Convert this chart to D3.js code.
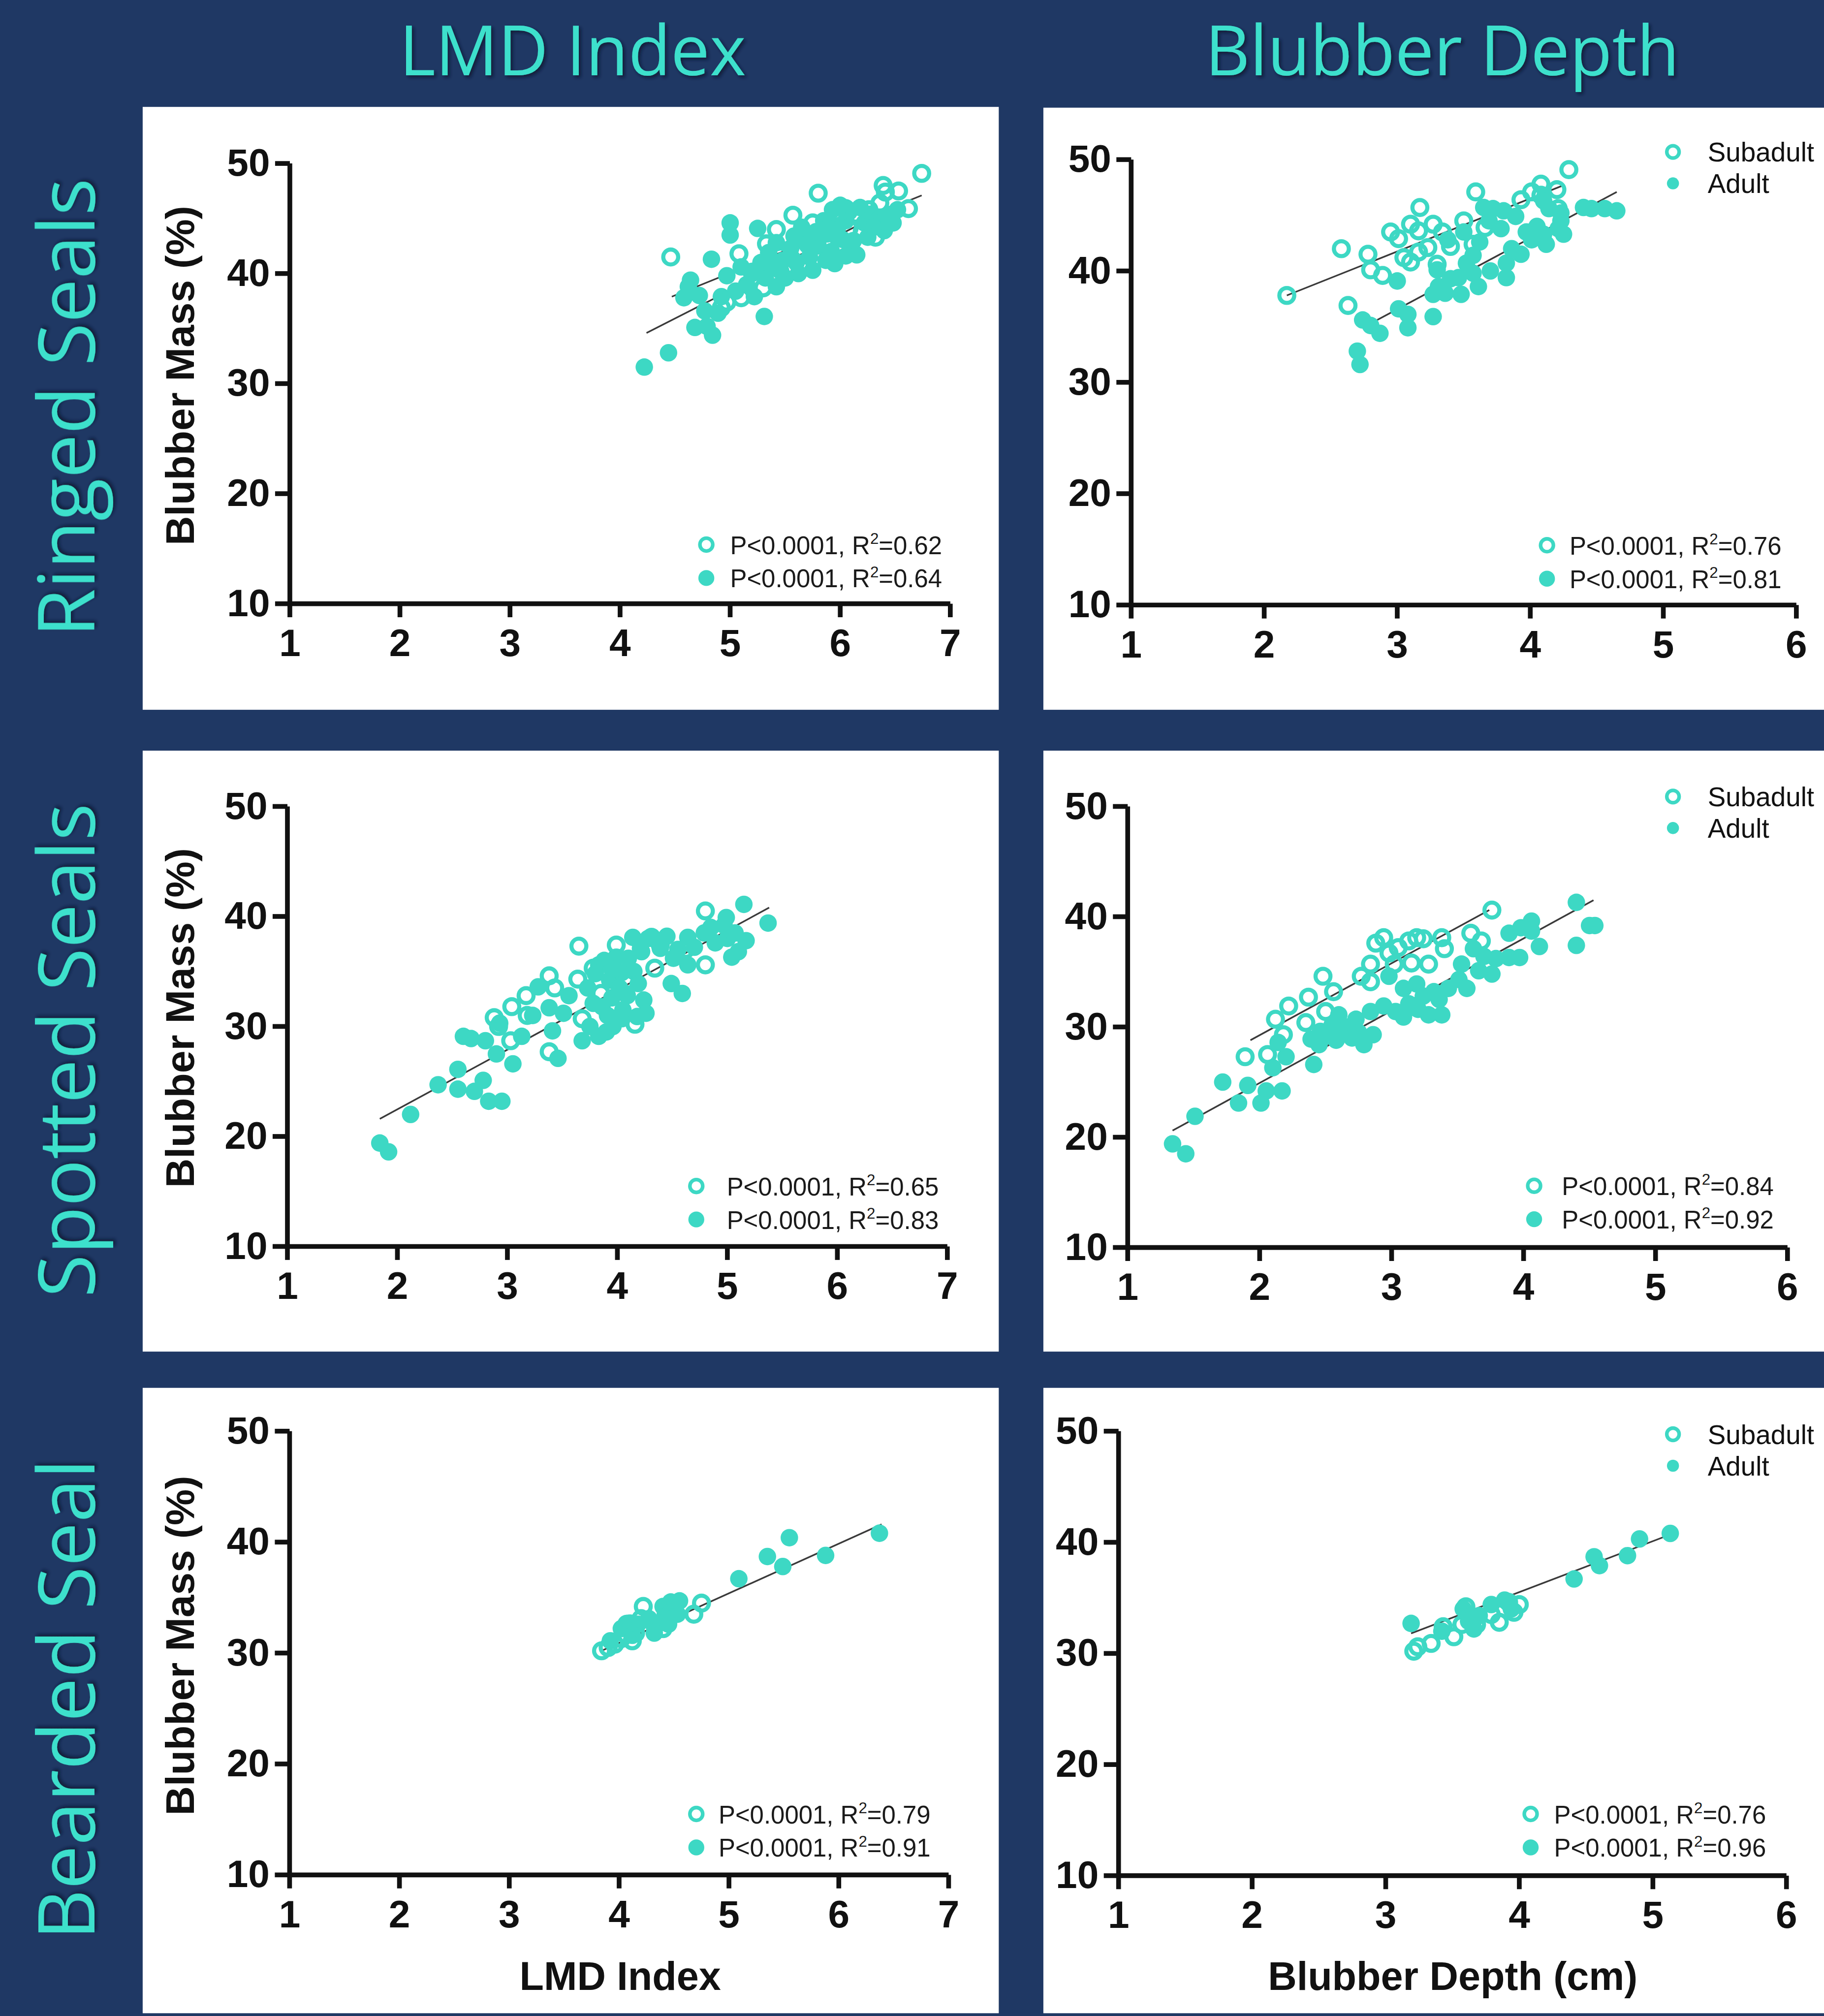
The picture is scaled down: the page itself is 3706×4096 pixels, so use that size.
<!DOCTYPE html>
<html>
<head>
<meta charset="utf-8">
<script src="https://cdn.jsdelivr.net/npm/d3@7"></script>
<style>
  body { margin: 0; background: #1f3864; }
  svg { display: block; }
</style>
</head>
<body>
<svg id="chart"></svg>
<script>
// ---- data ----
const columnTitles = ['LMD Index', 'Blubber Depth'];
const rowTitles = ['Ringed Seals', 'Spotted Seals', 'Bearded Seal'];
const xTitles = ['LMD Index', 'Blubber Depth (cm)'];
const yTitle = 'Blubber Mass (%)';
const ageGroups = ['Subadult', 'Adult'];
const yTicks = [10, 20, 30, 40, 50];
const lmdTicks = [1, 2, 3, 4, 5, 6, 7];
const depthTicks = [1, 2, 3, 4, 5, 6];
const pValue = 'P<0.0001';

// ringed seals, LMD index
const ringedLmdSub = [[6.74,49.1],[5.80,47.3],[6.39,48.0],[6.41,47.4],[6.53,47.5],[6.62,45.9],[5.57,45.3],[5.75,44.6],
  [6.32,43.3],[6.02,42.6],[4.46,41.5],[5.08,41.8],[5.42,44.0],[4.97,37.4],[5.10,37.8],[5.45,41.6],[5.33,42.7],
  [6.05,45.9],[6.14,45.4],[6.26,45.8],[5.92,44.3],[6.20,43.8],[5.86,42.8],[5.55,40.5],[5.30,38.7],[6.46,45.3],
  [6.08,44.1],[5.96,45.6],[5.66,42.2],[6.36,46.4],[5.20,40.1],[4.92,36.9]];
const ringedLmdAdult = [[4.22,31.5],[4.44,32.8],[5.00,44.6],[5.00,43.5],[4.83,41.3],[4.64,39.4],[4.62,38.8],[4.58,37.8],
  [4.68,35.1],[4.79,35.2],[4.84,34.4],[4.89,36.4],[4.97,39.8],[5.31,36.1],[5.25,44.1],[5.32,39.6],[5.42,38.8],
  [5.62,40.0],[5.95,40.9],[5.68,43.1],[5.20,40.2],[5.15,39.0],[5.38,40.5],[5.48,41.2],[5.55,42.3],[5.72,41.5],
  [5.80,42.5],[5.88,43.6],[5.98,44.3],[6.05,44.8],[6.10,42.4],[6.15,41.7],[6.22,44.6],[6.28,45.4],[6.35,44.9],
  [6.42,45.1],[6.48,44.6],[6.52,45.8],[5.93,45.8],[6.00,46.2],[6.08,45.6],[6.18,46.0],[5.78,43.8],[5.65,44.2],
  [5.42,42.8],[5.35,41.9],[5.28,41.0],[5.10,40.6],[4.72,38.0],[4.77,36.6],[4.92,37.9],[5.05,38.4],[5.22,37.9],
  [5.50,39.6],[5.60,41.0],[6.25,43.3],[6.40,43.9],[5.87,41.2],[6.02,43.1],[5.75,40.3],[5.92,42.0],[6.12,43.0],
  [6.30,44.2],[5.85,44.8],[6.05,41.6],[5.70,42.6],[5.46,40.2],[5.58,43.4]];
const ringedLmdFits = [[[4.47,37.9],[6.74,47.1]], [[4.24,34.6],[6.52,46.2]]];
const ringedLmdR2 = ['0.62', '0.64'];

// ringed seals, blubber depth
const ringedDepthSub = [[2.17,37.8],[2.58,42.0],[2.63,36.9],[2.78,41.5],[2.80,40.1],[2.89,39.6],[2.95,43.5],[3.01,42.9],
  [3.17,45.7],[3.10,44.2],[3.16,43.6],[3.27,44.2],[3.10,40.8],[3.16,41.7],[3.23,42.1],[3.34,43.5],[3.59,47.1],
  [3.50,44.5],[3.57,42.4],[3.93,46.4],[4.01,47.1],[4.08,47.8],[4.08,46.8],[4.20,47.3],[4.29,49.1],[4.21,45.6],
  [3.40,42.2],[3.66,43.9],[3.05,41.2],[3.30,40.6]];
const ringedDepthAdult = [[2.70,32.8],[2.72,31.6],[2.74,35.6],[2.80,35.1],[2.87,34.4],[3.00,39.1],[3.01,36.6],[3.08,36.1],
  [3.08,34.9],[3.27,35.9],[3.27,37.9],[3.31,38.6],[3.36,38.0],[3.48,37.9],[3.40,39.3],[3.46,39.4],[3.52,40.7],
  [3.57,39.8],[3.61,38.6],[3.70,40.0],[3.82,39.4],[3.82,40.7],[3.93,41.5],[3.65,45.7],[3.72,45.6],[3.80,45.4],
  [3.69,44.5],[3.78,43.8],[3.89,44.9],[3.97,43.5],[4.01,42.8],[4.10,43.3],[4.12,42.4],[4.21,43.8],[4.25,43.3],
  [4.23,45.2],[4.23,44.5],[4.40,45.7],[4.46,45.6],[4.56,45.6],[4.65,45.4],[3.57,41.4],[3.50,43.5],[3.38,42.8],
  [4.10,46.3],[4.14,45.6],[3.30,40.1],[3.62,42.6],[3.86,42.0],[4.05,44.0]];
const ringedDepthFits = [[[2.17,37.8],[4.25,47.7]], [[2.85,35.6],[4.65,47.1]]];
const ringedDepthR2 = ['0.76', '0.81'];

// spotted seals, LMD index
const spottedLmdSub = [[4.80,40.5],[3.65,37.3],[3.38,34.6],[3.17,32.8],[3.04,31.8],[2.88,30.8],[2.92,30.0],[3.64,34.3],
  [3.38,27.7],[3.03,28.7],[4.16,30.2],[4.34,35.3],[4.80,35.6],[3.99,37.4],[4.31,38.1],[4.39,37.4],[3.68,30.7],
  [4.92,38.5],[3.18,31.0],[3.43,33.5],[3.78,35.3],[4.09,34.2],[3.85,33.0],[4.62,37.0]];
const spottedLmdAdult = [[1.84,19.4],[1.92,18.6],[2.12,22.0],[2.37,24.7],[2.55,26.1],[2.55,24.3],[2.70,24.1],[2.78,25.1],
  [2.83,23.2],[2.95,23.2],[2.60,29.1],[2.67,28.9],[2.80,28.7],[2.90,27.5],[3.05,26.6],[2.93,30.3],[3.13,29.1],
  [3.23,31.0],[3.28,33.6],[3.38,31.7],[3.51,31.2],[3.46,27.1],[3.41,29.6],[3.68,28.7],[3.83,29.1],[3.78,32.1],
  [3.73,33.5],[3.83,35.6],[3.93,34.2],[3.99,36.3],[4.09,32.8],[4.04,30.7],[3.96,30.0],[4.19,33.9],[4.24,32.4],
  [4.26,31.2],[4.14,38.1],[4.21,37.1],[4.36,37.8],[4.49,33.9],[4.59,33.0],[4.51,36.2],[4.64,35.6],[4.64,38.1],
  [4.79,38.5],[4.97,39.2],[5.07,38.5],[5.04,36.3],[5.17,37.8],[5.15,41.1],[5.37,39.4],[4.89,37.6],[4.99,39.9],
  [4.39,37.1],[3.91,31.0],[4.04,34.9],[3.56,32.8],[3.80,34.8],[3.88,36.0],[3.95,35.2],[4.02,33.5],[4.10,36.2],
  [4.15,35.0],[3.86,31.8],[3.95,32.6],[4.05,31.5],[4.18,30.9],[3.75,30.0],[3.90,29.5],[4.22,36.8],[4.28,38.0],
  [4.45,38.2],[4.55,37.0],[4.70,37.2],[4.85,39.0],[5.00,38.0],[5.10,36.8]];
const spottedLmdFits = [[[1.84,21.6],[5.38,40.8]]];
const spottedLmdR2 = ['0.65', '0.83'];

// spotted seals, blubber depth
const spottedDepthSub = [[3.76,40.6],[1.89,27.3],[2.06,27.5],[2.12,30.7],[2.18,29.3],[2.22,31.9],[2.35,30.4],[2.37,32.7],
  [2.48,34.6],[2.56,33.2],[2.50,31.4],[2.77,34.6],[2.84,35.7],[2.88,37.6],[2.94,38.1],[3.02,35.7],[3.05,37.2],
  [3.13,37.8],[3.15,35.8],[3.19,38.1],[3.24,38.0],[3.28,35.7],[3.38,38.1],[3.40,37.1],[3.60,38.5],[3.68,37.8],
  [2.84,34.1],[2.98,36.7]];
const spottedDepthAdult = [[1.34,19.4],[1.44,18.5],[1.51,21.9],[1.72,25.0],[1.84,23.1],[1.91,24.7],[2.01,23.1],[2.05,24.2],
  [2.17,24.2],[2.10,26.3],[2.14,28.6],[2.20,27.3],[2.41,26.6],[2.39,28.9],[2.46,29.6],[2.58,28.8],[2.65,30.0],
  [2.73,30.7],[2.79,28.4],[2.86,29.3],[2.84,31.4],[2.94,31.9],[3.03,31.4],[3.13,32.1],[3.09,30.9],[3.19,33.9],
  [3.24,32.8],[3.28,31.1],[3.38,31.1],[3.36,32.5],[3.43,33.5],[3.51,34.3],[3.57,33.5],[3.53,35.7],[3.62,37.1],
  [3.66,35.1],[3.76,34.8],[3.79,36.2],[3.89,36.3],[3.97,36.3],[3.89,38.5],[3.98,39.0],[4.06,39.6],[4.06,38.7],
  [4.12,37.3],[4.40,41.3],[4.40,37.4],[4.50,39.2],[4.54,39.2],[2.98,34.6],[3.09,33.5],[2.60,31.1],[2.75,29.5],
  [2.52,29.2],[2.62,29.6],[2.70,29.0],[2.55,30.2],[2.45,28.4],[3.20,31.6],[3.32,33.2],[3.70,36.4]];
const spottedDepthFits = [[[1.93,28.8],[3.74,40.6]], [[1.34,20.6],[4.53,41.5]]];
const spottedDepthR2 = ['0.84', '0.92'];

// bearded seal, LMD index
const beardedLmdSub = [[3.84,30.2],[3.96,30.8],[4.02,31.3],[4.12,31.1],[4.22,34.2],[4.15,31.8],[4.32,32.6],[4.68,33.5],
  [4.75,34.5],[4.40,32.2],[4.47,33.6],[4.07,32.6],[4.20,33.1],[3.90,30.5]];
const beardedLmdAdult = [[6.37,40.8],[5.55,40.4],[5.35,38.7],[5.49,37.8],[5.88,38.8],[5.09,36.7],[4.02,32.2],[4.10,32.7],
  [4.17,32.6],[4.27,33.1],[4.35,32.6],[4.42,33.5],[4.40,34.2],[4.47,34.6],[4.55,34.7],[4.32,31.8],[4.45,32.6],
  [4.53,33.5],[4.12,31.6],[3.92,31.1]];
const beardedLmdFits = [[[3.84,30.2],[6.39,41.6]]];
const beardedLmdR2 = ['0.79', '0.91'];

// bearded seal, blubber depth
const beardedDepthSub = [[3.21,30.2],[3.24,30.6],[3.34,30.9],[3.51,31.5],[3.43,32.4],[3.60,34.2],[3.68,32.6],[3.79,33.5],
  [3.85,32.8],[3.96,33.7],[4.00,34.4],[3.92,34.6],[3.66,33.2],[3.57,32.6]];
const beardedDepthAdult = [[3.19,32.7],[5.13,40.8],[4.90,40.3],[4.81,38.8],[4.56,38.7],[4.60,37.9],[4.41,36.7],[3.42,32.0],
  [3.58,34.0],[3.62,32.9],[3.66,32.2],[3.79,34.4],[3.89,34.8],[3.94,34.0],[3.70,33.4]];
const beardedDepthFits = [[[3.19,31.8],[5.13,40.7]]];
const beardedDepthR2 = ['0.76', '0.96'];

// ---- layout (in units of the 1419 x 1568 view box) ----
const teal = '#3dd8c4';
const titleTeal = '#3ee0cc';
const navy = '#1f3864';
const sans = "'Liberation Sans', Arial, sans-serif";

const panels = [
  {sub: ringedLmdSub, adult: ringedLmdAdult, fits: ringedLmdFits, r2: ringedLmdR2, ticks: lmdTicks,
   box: [111, 83, 777, 552], xr: [225.5, 739.3], yr: [469.5, 127], stats: [549.5, 423.5, 568], col: 0, row: 0},
  {sub: ringedDepthSub, adult: ringedDepthAdult, fits: ringedDepthFits, r2: ringedDepthR2, ticks: depthTicks,
   box: [811.7, 83.6, 1419, 552], xr: [880, 1397.5], yr: [470.5, 124], stats: [1203.5, 424, 1221], legend: 118, col: 1, row: 0},
  {sub: spottedLmdSub, adult: spottedLmdAdult, fits: spottedLmdFits, r2: spottedLmdR2, ticks: lmdTicks,
   box: [111, 583.8, 777, 1051.3], xr: [223.6, 737], yr: [969.5, 627.2], stats: [541.7, 922.5, 565.4], col: 0, row: 1},
  {sub: spottedDepthSub, adult: spottedDepthAdult, fits: spottedDepthFits, r2: spottedDepthR2, ticks: depthTicks,
   box: [811.7, 583.8, 1419, 1051.3], xr: [877.3, 1390.6], yr: [970.3, 627.2], stats: [1193.5, 922.3, 1215], legend: 619.5, col: 1, row: 1},
  {sub: beardedLmdSub, adult: beardedLmdAdult, fits: beardedLmdFits, r2: beardedLmdR2, ticks: lmdTicks,
   box: [111, 1079.5, 777, 1566], xr: [225.3, 738], yr: [1458.4, 1113.2], stats: [541.7, 1411, 559], col: 0, row: 2},
  {sub: beardedDepthSub, adult: beardedDepthAdult, fits: beardedDepthFits, r2: beardedDepthR2, ticks: depthTicks,
   box: [811.7, 1079.5, 1419, 1566], xr: [870.2, 1389.8], yr: [1459, 1113.2], stats: [1190.8, 1411, 1209], legend: 1115.6, col: 1, row: 2}
];
const rowTitleY = [317, 817, 1322];
const yTitleY = [292, 791.7, 1280];

const svg = d3.select('#chart')
  .attr('width', 3706)
  .attr('height', 4096)
  .attr('viewBox', '0 0 1419 1568');

const defs = svg.append('defs');
defs.append('filter').attr('id', 'shadow')
  .attr('x', '-10%').attr('y', '-10%').attr('width', '120%').attr('height', '120%')
  .append('feDropShadow')
    .attr('dx', 1.6).attr('dy', 1.6).attr('stdDeviation', 1.2)
    .attr('flood-color', '#0a1430').attr('flood-opacity', 0.85);

svg.append('rect').attr('width', 1419).attr('height', 1568).attr('fill', navy);

// column headers
svg.selectAll('text.col-title').data(columnTitles)
  .enter().append('text')
    .attr('class', 'col-title')
    .attr('x', (d, i) => i === 0 ? 445.5 : 1122)
    .attr('y', 58.5)
    .attr('text-anchor', 'middle')
    .attr('font-family', "'Open Sans', sans-serif")
    .attr('font-size', 54)
    .attr('fill', titleTeal)
    .attr('filter', 'url(#shadow)')
    .text(d => d);

// row titles, rotated
svg.selectAll('text.row-title').data(rowTitles)
  .enter().append('text')
    .attr('class', 'row-title')
    .attr('transform', (d, i) => `translate(73.5,${rowTitleY[i]}) rotate(-90)`)
    .attr('text-anchor', 'middle')
    .attr('font-family', "'Open Sans', sans-serif")
    .attr('font-size', 61)
    .attr('fill', titleTeal)
    .attr('filter', 'url(#shadow)')
    .text(d => d);

function drawPanel(p) {
  const g = svg.append('g');
  const [x0, y0, x1, y1] = p.box;
  g.append('rect')
    .attr('x', x0).attr('y', y0)
    .attr('width', x1 - x0).attr('height', y1 - y0)
    .attr('fill', '#fff');

  const x = d3.scaleLinear().domain(d3.extent(p.ticks)).range(p.xr);
  const y = d3.scaleLinear().domain(d3.extent(yTicks)).range(p.yr);

  // fit lines under the points
  g.selectAll('line.fit').data(p.fits)
    .enter().append('line')
      .attr('class', 'fit')
      .attr('x1', d => x(d[0][0])).attr('y1', d => y(d[0][1]))
      .attr('x2', d => x(d[1][0])).attr('y2', d => y(d[1][1]))
      .attr('stroke', '#3a3a3a')
      .attr('stroke-width', 1.3);

  g.selectAll('circle.adult').data(p.adult)
    .enter().append('circle')
      .attr('class', 'adult')
      .attr('cx', d => x(d[0])).attr('cy', d => y(d[1]))
      .attr('r', 6.8)
      .attr('fill', teal);

  g.selectAll('circle.sub').data(p.sub)
    .enter().append('circle')
      .attr('class', 'sub')
      .attr('cx', d => x(d[0])).attr('cy', d => y(d[1]))
      .attr('r', 5.8)
      .attr('fill', 'none')
      .attr('stroke', teal)
      .attr('stroke-width', 3.2);

  // axes
  const yAxis = d3.axisLeft(y).tickValues(yTicks).tickFormat(d3.format('d'))
    .tickSize(11.5).tickSizeOuter(0).tickPadding(4).offset(0);
  const xAxis = d3.axisBottom(x).tickValues(p.ticks).tickFormat(d3.format('d'))
    .tickSize(10.5).tickSizeOuter(0).tickPadding(9).offset(0);

  [[yAxis, `translate(${p.xr[0]},0)`], [xAxis, `translate(0,${p.yr[0]})`]].forEach(([axis, tr]) => {
    const a = g.append('g')
      .attr('transform', tr)
      .call(axis)
      .attr('font-family', sans)
      .attr('font-size', 30)
      .attr('font-weight', 'bold')
      .attr('color', '#111');
    a.select('.domain').attr('stroke-width', 3.7);
    a.selectAll('.tick line').attr('stroke-width', 3.7);
  });

  // stats legend
  const [scx, scy, stx] = p.stats;
  const stats = g.append('g');
  stats.append('circle')
    .attr('cx', scx).attr('cy', scy).attr('r', 5)
    .attr('fill', 'none').attr('stroke', teal).attr('stroke-width', 2.8);
  stats.append('circle')
    .attr('cx', scx).attr('cy', scy + 26).attr('r', 6.2)
    .attr('fill', teal);
  p.r2.forEach((r, i) => {
    const t = stats.append('text')
      .attr('x', stx).attr('y', scy + 7.3 + i * 26)
      .attr('font-family', sans)
      .attr('font-size', 19.5)
      .attr('fill', '#1a1a1a');
    t.append('tspan').text(pValue + ', R');
    t.append('tspan').attr('font-size', 12).attr('dy', -8).text('2');
    t.append('tspan').attr('dy', 8).text('=' + r);
  });

  // age legend (right column)
  if (p.legend !== undefined) {
    const lg = g.append('g');
    ageGroups.forEach((name, i) => {
      const cy = p.legend + i * 24.5;
      lg.append('circle')
        .attr('cx', 1301.5).attr('cy', cy)
        .attr('r', i === 0 ? 4.8 : 4.7)
        .attr('fill', i === 0 ? 'none' : teal)
        .attr('stroke', i === 0 ? teal : 'none')
        .attr('stroke-width', 2.8);
      lg.append('text')
        .attr('x', 1328.5).attr('y', cy + 7.5)
        .attr('font-family', sans)
        .attr('font-size', 21)
        .attr('fill', '#111')
        .text(name);
    });
  }

  // y title (left column)
  if (p.col === 0) {
    g.append('text')
      .attr('transform', `translate(151,${yTitleY[p.row]}) rotate(-90)`)
      .attr('text-anchor', 'middle')
      .attr('font-family', sans)
      .attr('font-size', 31.5)
      .attr('font-weight', 'bold')
      .attr('fill', '#111')
      .text(yTitle);
  }

  // x title (bottom row)
  if (p.row === 2) {
    g.append('text')
      .attr('x', p.col === 0 ? 482.5 : 1130.2)
      .attr('y', 1548)
      .attr('text-anchor', 'middle')
      .attr('font-family', sans)
      .attr('font-size', 31)
      .attr('font-weight', 'bold')
      .attr('fill', '#111')
      .text(xTitles[p.col]);
  }
}

panels.forEach(drawPanel);
</script>
</body>
</html>
